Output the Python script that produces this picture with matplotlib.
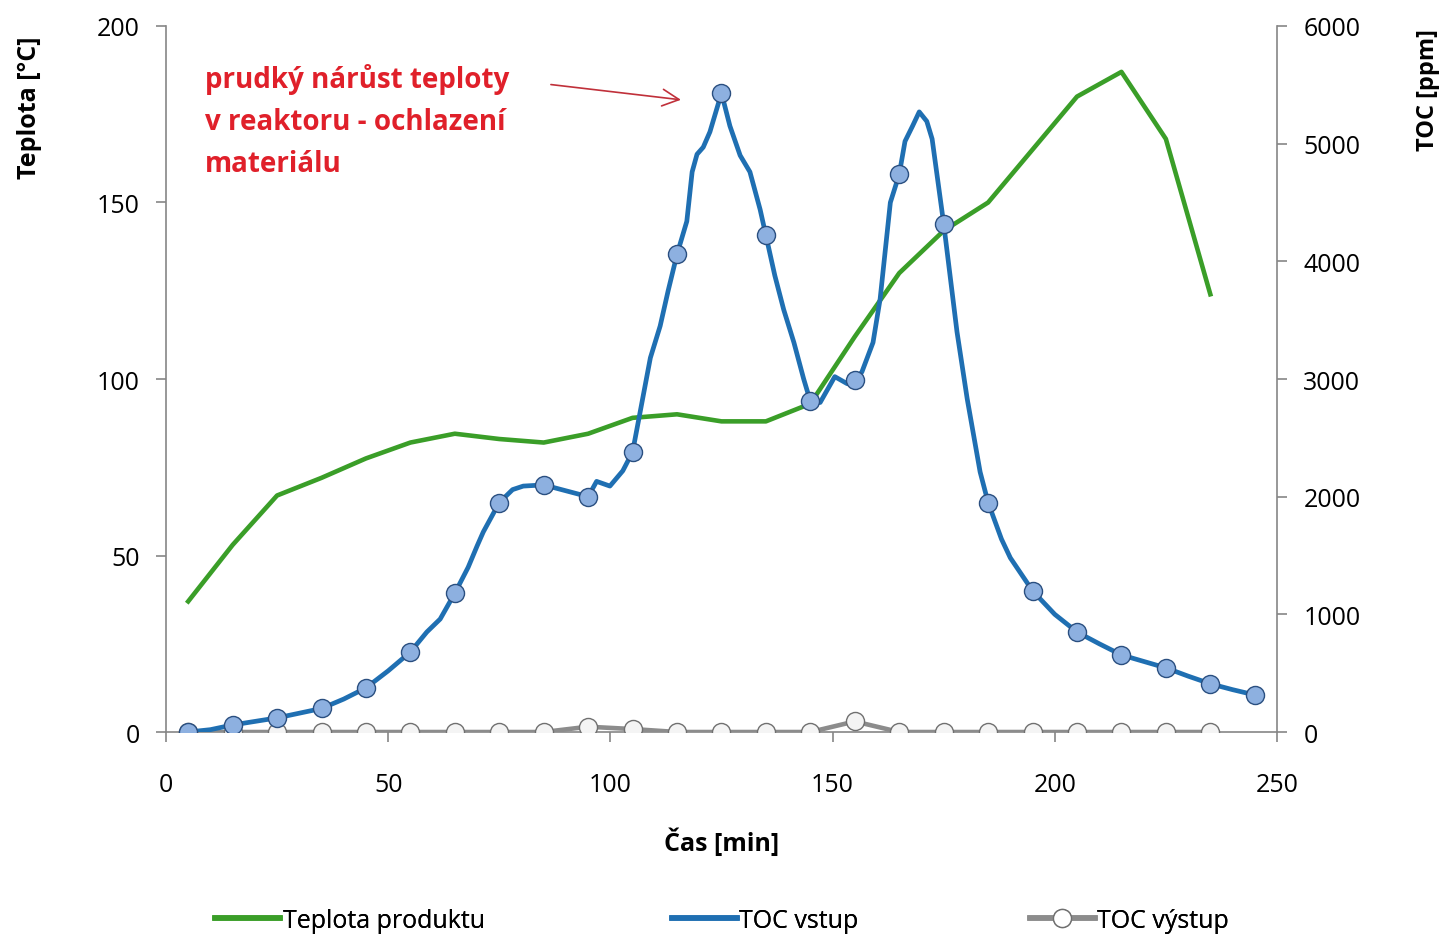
import matplotlib
matplotlib.use("Agg")
import matplotlib.pyplot as plt
from matplotlib.lines import Line2D

plt.rcParams['font.family'] = ['Open Sans', 'DejaVu Sans']

# ---- data ----
temp_t = [5, 15, 25, 35, 45, 55, 65, 75, 85, 95, 105, 115, 125, 135, 145,
          155, 165, 175, 185, 195, 205, 215, 225, 235]
temp_v = [37, 53, 67, 72, 77.5, 82, 84.5, 83, 82, 84.5, 89, 90, 88, 88, 93,
          112, 130, 142, 150, 165, 180, 187, 168, 124]

toc_in_t = [5, 10, 15, 20, 25, 30, 35, 40, 45, 50, 55, 58.7, 61.7, 65, 68, 70, 71.4,
            75, 78, 80.4, 85, 90, 95, 96.9, 99.9, 102.8, 105, 109, 111.2, 113, 115,
            117.2, 118.4, 119.5, 120.9, 122.4, 125, 126.9, 129.2, 131.4, 133.7, 135,
            137, 139, 141.3, 143.5, 145, 147.2, 150.5, 153.3, 155, 156.6, 159.1,
            160.7, 163, 165, 166.3, 168, 169.5, 171.2, 172.4, 175, 178, 180.3, 183.2,
            185, 188, 190, 195, 200, 205, 210, 215, 220, 225, 230, 235, 240, 245]
toc_in_v = [0, 20, 60, 90, 120, 160, 200, 280, 375, 520, 680, 850, 960, 1180, 1400,
            1580, 1700, 1950, 2060, 2090, 2100, 2050, 2000, 2130, 2090, 2220, 2380,
            3180, 3450, 3750, 4060, 4340, 4760, 4910, 4970, 5100, 5430, 5150, 4900,
            4760, 4440, 4220, 3880, 3590, 3310, 3000, 2810, 2800, 3020, 2960, 2990,
            3060, 3310, 3680, 4500, 4740, 5020, 5150, 5270, 5190, 5040, 4320, 3400,
            2830, 2210, 1950, 1640, 1480, 1200, 1000, 850, 750, 655, 600, 545, 475,
            410, 360, 315]

toc_mark_t = [5, 15, 25, 35, 45, 55, 65, 75, 85, 95, 105, 115, 125, 135, 145, 155,
              165, 175, 185, 195, 205, 215, 225, 235, 245]
toc_mark_v = [0, 60, 120, 200, 375, 680, 1180, 1950, 2100, 2000, 2380, 4060, 5430,
              4220, 2810, 2990, 4740, 4320, 1950, 1200, 850, 655, 545, 410, 315]

toc_out_t = [5, 15, 25, 35, 45, 55, 65, 75, 85, 95, 105, 115, 125, 135, 145, 155,
             165, 175, 185, 195, 205, 215, 225, 235]
toc_out_v = [0, 0, 0, 0, 0, 0, 0, 0, 0, 45, 25, 0, 0, 0, 0, 90,
             0, 0, 0, 0, 0, 0, 0, 0]

x_ticks = [0, 50, 100, 150, 200, 250]
y_ticks = [0, 50, 100, 150, 200]
y2_ticks = [0, 1000, 2000, 3000, 4000, 5000, 6000]

series_names = ['Teplota produktu', 'TOC vstup', 'TOC výstup']

c_green = '#3a9e28'
c_blue = '#1f6fb2'
c_mfill = '#8db0e0'
c_gray = '#8c8c8c'
spine_c = '#868686'

fig = plt.figure(figsize=(14.47, 9.37), dpi=100)
ax = fig.add_axes([0.1147, 0.2177, 0.8825 - 0.1147, 0.9712 - 0.2177])
ax2 = ax.twinx()

ax.plot(temp_t, temp_v, color=c_green, lw=3.3, zorder=2, solid_joinstyle='round')
ax2.plot(toc_out_t, toc_out_v, color=c_gray, lw=3.3, marker='o', ms=13,
         mfc='#f4f4f4', mec='#707070', mew=1.0, zorder=2)
ax2.plot(toc_in_t, toc_in_v, color=c_blue, lw=3.4, zorder=3, solid_joinstyle='round')
ax2.plot(toc_mark_t, toc_mark_v, ls='none', marker='o', ms=13,
         mfc=c_mfill, mec='#2a4f80', mew=1.0, zorder=4)

ax.set_xlim(0, 250)
ax.set_ylim(0, 200)
ax2.set_ylim(0, 6000)
ax.set_xticks(x_ticks)
ax.set_yticks(y_ticks)
ax2.set_yticks(y2_ticks)

for a in (ax, ax2):
    a.spines['top'].set_visible(False)
    for s in ('left', 'right', 'bottom'):
        a.spines[s].set_color(spine_c)
        a.spines[s].set_linewidth(1.2)
    a.tick_params(direction='out', length=7, width=1.2, color=spine_c,
                  labelsize=18, pad=12)
ax.tick_params(axis='x', pad=22)
ax.spines['right'].set_visible(False)
ax2.spines['left'].set_visible(False)
ax2.spines['bottom'].set_visible(False)
ax.set_zorder(0)
ax2.set_zorder(1)
ax2.patch.set_visible(False)

ax.set_xlabel('Čas [min]', fontsize=18, fontweight='bold', labelpad=22)
ax.set_ylabel('Teplota [°C]', fontsize=18, fontweight='bold')
ax.yaxis.set_label_coords(-0.112, 0.885)
ax2.set_ylabel('TOC [ppm]', fontsize=17, fontweight='bold', rotation=90)
ax2.yaxis.set_label_coords(1.125, 0.91)

ax.text(8.8, 189.6, 'prudký nárůst teploty\nv reaktoru - ochlazení\nmateriálu',
        color='#e0202a', fontsize=20, fontweight='bold', va='top', ha='left',
        linespacing=1.6, zorder=10)
ax.annotate('', xy=(116.5, 179), xytext=(86, 183.5),
            arrowprops=dict(arrowstyle='->', color='#c0303a', lw=1.2,
                            mutation_scale=30), zorder=10)

handles = [Line2D([], [], color=c_green, lw=4),
           Line2D([], [], color=c_blue, lw=4),
           Line2D([], [], color=c_gray, lw=4, marker='o', ms=13,
                  mfc='white', mec='#707070')]
leg_x = [0.1486, 0.4644, 0.7118]
for h, name, x in zip(handles, series_names, leg_x):
    lg = fig.legend([h], [name], loc='center left', bbox_to_anchor=(x, 0.017),
                    frameon=False, fontsize=18, handlelength=2.6,
                    handletextpad=0.1, borderpad=0, borderaxespad=0)
    fig.add_artist(lg)

fig.savefig('out.png', dpi=100)
